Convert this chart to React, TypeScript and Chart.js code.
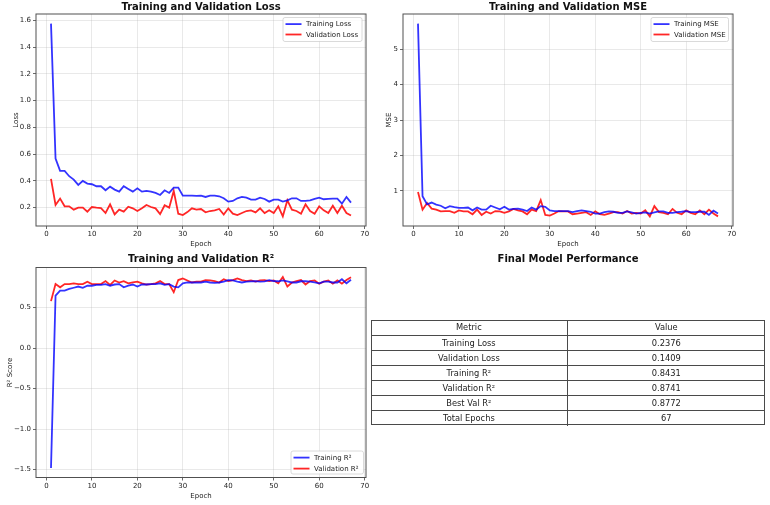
import React, { useEffect, useRef } from "react";
import { Chart, registerables } from "chart.js";

Chart.register(...registerables);

// ---- training history -------------------------------------------------------
const epochs = [
  1, 2, 3, 4, 5, 6, 7, 8, 9, 10, 11, 12, 13, 14, 15, 16, 17, 18, 19, 20,
  21, 22, 23, 24, 25, 26, 27, 28, 29, 30, 31, 32, 33, 34, 35, 36, 37, 38, 39, 40,
  41, 42, 43, 44, 45, 46, 47, 48, 49, 50, 51, 52, 53, 54, 55, 56, 57, 58, 59, 60,
  61, 62, 63, 64, 65, 66, 67,
];

const trainLoss = [
  1.575, 0.567, 0.475, 0.475, 0.435, 0.41, 0.37, 0.4, 0.38, 0.375,
  0.36, 0.36, 0.33, 0.357, 0.335, 0.32, 0.36, 0.34, 0.32, 0.345,
  0.32, 0.325, 0.32, 0.31, 0.295, 0.33, 0.31, 0.35, 0.35, 0.29,
  0.29, 0.29, 0.288, 0.29, 0.28, 0.29, 0.29, 0.285, 0.27, 0.245,
  0.25, 0.27, 0.28, 0.275, 0.26, 0.26, 0.275, 0.265, 0.245, 0.26,
  0.26, 0.245, 0.255, 0.27, 0.27, 0.25, 0.25, 0.255, 0.265, 0.275,
  0.263, 0.265, 0.267, 0.267, 0.23, 0.28, 0.2376,
];

const valLoss = [
  0.415, 0.22, 0.268, 0.21, 0.21, 0.185, 0.2, 0.2, 0.17, 0.205,
  0.2, 0.197, 0.16, 0.225, 0.15, 0.185, 0.17, 0.207, 0.195, 0.175,
  0.195, 0.22, 0.205, 0.195, 0.152, 0.218, 0.2, 0.325, 0.155, 0.145,
  0.167, 0.195, 0.185, 0.19, 0.165, 0.175, 0.18, 0.19, 0.148, 0.195,
  0.155, 0.145, 0.16, 0.175, 0.18, 0.165, 0.195, 0.16, 0.18, 0.16,
  0.21, 0.135, 0.255, 0.185, 0.175, 0.155, 0.225, 0.175, 0.155, 0.21,
  0.18, 0.16, 0.215, 0.16, 0.215, 0.16, 0.1409,
];

const trainMse = [
  5.72, 0.85, 0.62, 0.67, 0.61, 0.58, 0.51, 0.57, 0.54, 0.52,
  0.52, 0.53, 0.45, 0.53, 0.47, 0.47, 0.58, 0.53, 0.48, 0.55,
  0.47, 0.49, 0.5, 0.47, 0.43, 0.53, 0.47, 0.57, 0.55, 0.45,
  0.43, 0.43, 0.43, 0.43, 0.4, 0.43, 0.45, 0.43, 0.41, 0.36,
  0.36, 0.4, 0.42, 0.41, 0.38, 0.38, 0.42, 0.39, 0.36, 0.38,
  0.39, 0.36, 0.39, 0.42, 0.42, 0.38, 0.38, 0.4, 0.41, 0.43,
  0.4, 0.4, 0.41, 0.41, 0.32, 0.44, 0.36,
];

const valMse = [
  0.97, 0.47, 0.66, 0.5, 0.47, 0.42, 0.43, 0.43, 0.38, 0.45,
  0.42, 0.42, 0.34, 0.47, 0.32, 0.41, 0.36, 0.43, 0.42, 0.38,
  0.42, 0.49, 0.45, 0.42, 0.34, 0.47, 0.43, 0.74, 0.32, 0.3,
  0.36, 0.43, 0.42, 0.42, 0.34, 0.36, 0.38, 0.4, 0.32, 0.42,
  0.34, 0.32, 0.36, 0.4, 0.4, 0.36, 0.43, 0.36, 0.38, 0.36,
  0.45, 0.28, 0.57, 0.4, 0.38, 0.34, 0.49, 0.38, 0.34, 0.45,
  0.38, 0.34, 0.45, 0.34, 0.47, 0.36, 0.28,
];

const trainR2 = [
  -1.48, 0.647, 0.71, 0.71, 0.73, 0.745, 0.76, 0.745, 0.77, 0.77,
  0.78, 0.78, 0.79, 0.77, 0.785, 0.79, 0.75, 0.77, 0.785, 0.76,
  0.785, 0.785, 0.79, 0.79, 0.8, 0.78, 0.79, 0.76, 0.75, 0.8,
  0.81, 0.81, 0.81, 0.81, 0.82, 0.81, 0.805, 0.81, 0.82, 0.84,
  0.835, 0.82, 0.81, 0.82, 0.825, 0.828, 0.82, 0.825, 0.84, 0.828,
  0.825, 0.835, 0.825, 0.81, 0.81, 0.825, 0.825, 0.82, 0.81, 0.8,
  0.82, 0.82, 0.81, 0.81, 0.85, 0.8, 0.8431,
];

const valR2 = [
  0.58, 0.79, 0.75, 0.79, 0.79, 0.8, 0.79, 0.79, 0.82, 0.79,
  0.79, 0.79, 0.827, 0.78, 0.835, 0.81, 0.827, 0.8, 0.81, 0.82,
  0.8, 0.785, 0.79, 0.8, 0.827, 0.79, 0.79, 0.69, 0.84, 0.86,
  0.835, 0.81, 0.82, 0.82, 0.84, 0.835, 0.827, 0.81, 0.85, 0.827,
  0.84, 0.86, 0.84, 0.827, 0.835, 0.82, 0.835, 0.84, 0.827, 0.835,
  0.8, 0.8772, 0.76, 0.81, 0.827, 0.84, 0.785, 0.827, 0.835, 0.795,
  0.82, 0.835, 0.795, 0.835, 0.795, 0.84, 0.8741,
];

// ---- tick labels ------------------------------------------------------------
const epochTicks = [0, 10, 20, 30, 40, 50, 60, 70];
const lossTicks = [0.2, 0.4, 0.6, 0.8, 1.0, 1.2, 1.4, 1.6];
const mseTicks = [1, 2, 3, 4, 5];
const r2Ticks = [-1.5, -1.0, -0.5, 0.0, 0.5];

// ---- summary table ----------------------------------------------------------
const tableHeader = ["Metric", "Value"];
const metricNames = [
  "Training Loss",
  "Validation Loss",
  "Training R²",
  "Validation R²",
  "Best Val R²",
  "Total Epochs",
];
const metricValues = ["0.2376", "0.1409", "0.8431", "0.8741", "0.8772", "67"];

// ---- drawing ----------------------------------------------------------------
const W = 770;
const H = 505;
const XAXIS_H = 24;
const FONT = "'DejaVu Sans', 'Liberation Sans', sans-serif";
const BLUE = "rgba(0,0,255,0.8)";
const RED = "rgba(255,0,0,0.85)";
const INK = "#222";
const TITLE_SIZE = 10;

// matplotlib-style 5% data margins
function paddedRange(values: number[]): [number, number] {
  const lo = Math.min(...values);
  const hi = Math.max(...values);
  const m = (hi - lo) * 0.05;
  return [lo - m, hi + m];
}

const fmt1 = (v: number) => (v < 0 ? "\u2212" : "") + Math.abs(v).toFixed(1);
const fmtInt = (v: number) => String(v);

type Series = { label: string; data: number[]; color: string };
type Panel = {
  title: string;
  titleY: number;
  yLabel: string;
  yLabelX: number;
  xLabelY: number;
  area: { left: number; top: number; right: number; bottom: number };
  yTicks: number[];
  yFmt: (v: number) => string;
  series: Series[];
  legend: { x: number; y: number; w: number; h: number; gap: number };
};

const panels: Panel[] = [
  {
    title: "Training and Validation Loss",
    titleY: 10.3,
    yLabel: "Loss",
    yLabelX: 17.6,
    xLabelY: 245.6,
    area: { left: 36, top: 14, right: 366, bottom: 226 },
    yTicks: lossTicks,
    yFmt: fmt1,
    series: [
      { label: "Training Loss", data: trainLoss, color: BLUE },
      { label: "Validation Loss", data: valLoss, color: RED },
    ],
    legend: { x: 283, y: 17.5, w: 79, h: 24, gap: 10.4 },
  },
  {
    title: "Training and Validation MSE",
    titleY: 10.3,
    yLabel: "MSE",
    yLabelX: 391.2,
    xLabelY: 245.6,
    area: { left: 403, top: 14, right: 733, bottom: 226 },
    yTicks: mseTicks,
    yFmt: fmtInt,
    series: [
      { label: "Training MSE", data: trainMse, color: BLUE },
      { label: "Validation MSE", data: valMse, color: RED },
    ],
    legend: { x: 651, y: 17.5, w: 77.5, h: 24, gap: 10.4 },
  },
  {
    title: "Training and Validation R²",
    titleY: 262.2,
    yLabel: "R² Score",
    yLabelX: 11.6,
    xLabelY: 498.4,
    area: { left: 36, top: 267.5, right: 366, bottom: 477.5 },
    yTicks: r2Ticks,
    yFmt: fmt1,
    series: [
      { label: "Training R²", data: trainR2, color: BLUE },
      { label: "Validation R²", data: valR2, color: RED },
    ],
    legend: { x: 291, y: 451, w: 72.5, h: 23, gap: 11 },
  },
];

function decorPlugin(p: Panel) {
  return {
    id: "panelDecor",
    afterDatasetsDraw(chart: Chart) {
      const { ctx, chartArea: a } = chart;
      ctx.save();
      ctx.strokeStyle = "#505050";
      ctx.lineWidth = 1;
      ctx.strokeRect(a.left, a.top, a.right - a.left, a.bottom - a.top);
      ctx.restore();
    },
    afterDraw(chart: Chart) {
      const { ctx, chartArea: a } = chart;
      const cx = (a.left + a.right) / 2;
      const cy = (a.top + a.bottom) / 2;
      ctx.save();
      ctx.fillStyle = "#111";
      ctx.textAlign = "center";
      ctx.textBaseline = "alphabetic";
      ctx.font = `bold ${TITLE_SIZE}px ${FONT}`;
      ctx.fillText(p.title, cx, p.titleY);

      ctx.fillStyle = INK;
      ctx.font = `7px ${FONT}`;
      ctx.fillText("Epoch", cx, p.xLabelY);

      ctx.save();
      ctx.translate(p.yLabelX, cy);
      ctx.rotate(-Math.PI / 2);
      ctx.fillText(p.yLabel, 0, 0);
      ctx.restore();

      // legend box
      const L = p.legend;
      ctx.beginPath();
      const r = 2;
      ctx.moveTo(L.x + r, L.y);
      ctx.arcTo(L.x + L.w, L.y, L.x + L.w, L.y + L.h, r);
      ctx.arcTo(L.x + L.w, L.y + L.h, L.x, L.y + L.h, r);
      ctx.arcTo(L.x, L.y + L.h, L.x, L.y, r);
      ctx.arcTo(L.x, L.y, L.x + L.w, L.y, r);
      ctx.closePath();
      ctx.fillStyle = "rgba(255,255,255,0.85)";
      ctx.fill();
      ctx.strokeStyle = "rgba(204,204,204,0.9)";
      ctx.lineWidth = 0.8;
      ctx.stroke();

      ctx.textAlign = "left";
      ctx.textBaseline = "middle";
      p.series.forEach((s, i) => {
        const y = L.y + 6.6 + i * L.gap;
        ctx.strokeStyle = s.color;
        ctx.lineWidth = 1.8;
        ctx.beginPath();
        ctx.moveTo(L.x + 2.5, y);
        ctx.lineTo(L.x + 18.5, y);
        ctx.stroke();
        ctx.fillStyle = INK;
        ctx.fillText(s.label, L.x + 23, y + 0.3);
      });
      ctx.restore();
    },
  };
}

function PanelChart({ panel }: { panel: Panel }) {
  const ref = useRef<HTMLCanvasElement | null>(null);

  useEffect(() => {
    const canvas = ref.current;
    if (!canvas) return;
    const [yMin, yMax] = paddedRange(panel.series.flatMap((s) => s.data));
    const [xMin, xMax] = paddedRange(epochs);
    const a = panel.area;

    const gridStyle = {
      color: "rgba(176,176,176,0.35)",
      lineWidth: 0.8,
      tickLength: 3,
      tickColor: "#444",
      tickWidth: 0.8,
    };

    const chart = new Chart(canvas, {
      type: "line",
      data: {
        datasets: panel.series.map((s) => ({
          label: s.label,
          data: epochs.map((e, i) => ({ x: e, y: s.data[i] })),
          borderColor: s.color,
          backgroundColor: s.color,
          borderWidth: 1.8,
          pointRadius: 0,
          tension: 0,
          fill: false,
        })),
      },
      options: {
        responsive: false,
        animation: false,
        events: [],
        layout: {
          padding: {
            left: 0,
            top: a.top,
            right: W - a.right,
            bottom: H - a.bottom - XAXIS_H,
          },
        },
        plugins: {
          legend: { display: false },
          title: { display: false },
          tooltip: { enabled: false },
        },
        scales: {
          x: {
            type: "linear",
            min: xMin,
            max: xMax,
            afterBuildTicks: (scale: any) => {
              scale.ticks = epochTicks.map((v) => ({ value: v }));
            },
            afterFit: (scale: any) => {
              scale.height = XAXIS_H;
            },
            ticks: {
              autoSkip: false,
              maxRotation: 0,
              padding: 1,
              color: INK,
              font: { family: FONT, size: 7 },
              callback: (v: any) => fmtInt(Number(v)),
            },
            grid: gridStyle,
            border: { display: false },
          },
          y: {
            type: "linear",
            min: yMin,
            max: yMax,
            afterBuildTicks: (scale: any) => {
              scale.ticks = panel.yTicks.map((v) => ({ value: v }));
            },
            afterFit: (scale: any) => {
              scale.width = a.left;
            },
            ticks: {
              autoSkip: false,
              padding: 2,
              color: INK,
              font: { family: FONT, size: 7 },
              callback: (v: any) => panel.yFmt(Number(v)),
            },
            grid: gridStyle,
            border: { display: false },
          },
        },
      },
      plugins: [decorPlugin(panel)],
    } as any);

    return () => chart.destroy();
  }, [panel]);

  return (
    <canvas
      ref={ref}
      width={W}
      height={H}
      style={{ position: "absolute", left: 0, top: 0, width: W, height: H, pointerEvents: "none" }}
    />
  );
}

function SummaryTable() {
  const left = 371;
  const top = 320;
  const width = 394;
  const rowH = 15;
  const split = 196.7;
  const rows = [tableHeader, ...metricNames.map((n, i) => [n, metricValues[i]])];
  const border = "1px solid #4a4a4a";
  const cell: React.CSSProperties = {
    position: "absolute",
    top: 0,
    height: rowH,
    lineHeight: `${rowH}px`,
    textAlign: "center",
    fontFamily: FONT,
    fontSize: 8.3,
    color: INK,
    whiteSpace: "nowrap",
  };
  return (
    <>
      <div
        style={{
          position: "absolute",
          left: 568 - 150,
          width: 300,
          top: 254,
          height: 10,
          lineHeight: "10px",
          textAlign: "center",
          fontFamily: FONT,
          fontWeight: "bold",
          fontSize: TITLE_SIZE,
          color: "#111",
          whiteSpace: "nowrap",
        }}
      >
        Final Model Performance
      </div>
      <div
        style={{
          position: "absolute",
          left,
          top,
          width,
          height: rowH * rows.length,
          border,
          boxSizing: "border-box",
        }}
      >
        {rows.map((r, i) => (
          <div
            key={i}
            style={{
              position: "absolute",
              left: -1,
              top: i * rowH - 1,
              width,
              height: rowH,
              borderTop: i > 0 ? border : "none",
              boxSizing: "border-box",
            }}
          >
            <div style={{ ...cell, left: 0, width: split, borderRight: border, boxSizing: "border-box" }}>{r[0]}</div>
            <div style={{ ...cell, left: split, width: width - split }}>{r[1]}</div>
          </div>
        ))}
      </div>
    </>
  );
}

export default function App() {
  return (
    <div
      style={{
        position: "absolute",
        left: 0,
        top: 0,
        width: W,
        height: H,
        overflow: "hidden",
        background: "#fff",
      }}
    >
      {panels.map((p) => (
        <PanelChart key={p.title} panel={p} />
      ))}
      <SummaryTable />
    </div>
  );
}
